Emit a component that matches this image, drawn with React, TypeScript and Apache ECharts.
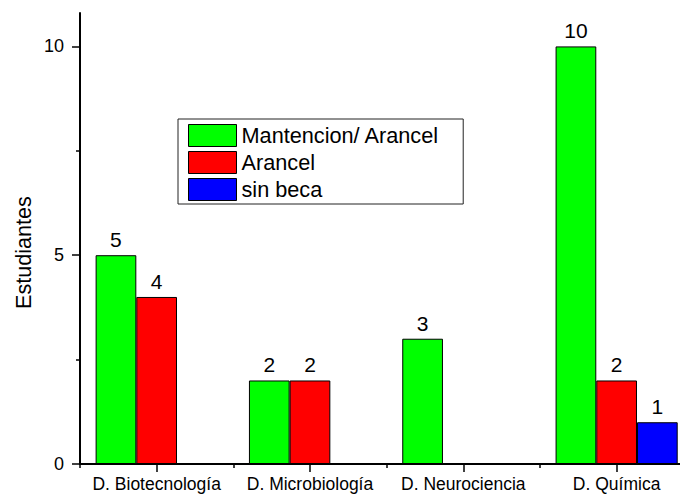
import React, { useEffect, useRef } from "react";
import * as echarts from "echarts";

const categories = ["D. Biotecnología", "D. Microbiología", "D. Neurociencia", "D. Química"];
const mantencionArancel = [5, 2, 3, 10];
const arancel = [4, 2, null, 2];
const sinBeca = [null, null, null, 1];
const seriesNames = ["Mantencion/ Arancel", "Arancel", "sin beca"];
const seriesColors = ["#00ff00", "#ff0000", "#0000ff"];
const yMajorTicks = [0, 5, 10];
const yMinorTicks = [2.5, 7.5];
const yAxisTitle = "Estudiantes";

const FONT = 'Arial, "Liberation Sans", sans-serif';

export default function App() {
  const ref = useRef<HTMLDivElement>(null);
  useEffect(() => {
    if (!ref.current) return;
    const chart = echarts.init(ref.current, null, { renderer: "svg" });
    const values = [mantencionArancel, arancel, sinBeca];
    chart.setOption({
      animation: false,
      backgroundColor: "#ffffff",
      textStyle: { fontFamily: FONT },
      grid: { left: 80, right: 0.7, top: 13, bottom: 32, containLabel: false },
      graphic: [
        {
          type: "text",
          x: 23.5,
          y: 252.5,
          rotation: Math.PI / 2,
          style: {
            text: yAxisTitle,
            fill: "#000",
            font: `21.6px ${FONT}`,
            textAlign: "center",
            textVerticalAlign: "middle",
          },
        },
      ],
      legend: {
        orient: "vertical",
        left: 178,
        top: 119,
        padding: [5, 24, 3, 10],
        itemWidth: 48,
        itemHeight: 22,
        itemGap: 4,
        borderColor: "#222",
        borderWidth: 1,
        borderRadius: 0,
        icon: "rect",
        textStyle: { fontSize: 21.7, color: "#000", fontFamily: FONT, padding: [0, 0, 0, 0] },
        itemStyle: { borderColor: "#000", borderWidth: 1 },
        data: seriesNames,
      },
      xAxis: [
        {
          type: "category",
          data: categories,
          position: "bottom",
          axisLine: { show: true, lineStyle: { color: "#000", width: 2 } },
          axisTick: { show: true, alignWithLabel: true, length: 8, lineStyle: { color: "#000", width: 1.5 } },
          axisLabel: { color: "#000", fontSize: 17.5, fontFamily: FONT, margin: 11, interval: 0 },
        },
        {
          type: "category",
          data: categories,
          position: "bottom",
          axisLine: { show: false },
          axisTick: { show: true, alignWithLabel: false, length: 4, lineStyle: { color: "#000", width: 1.5 } },
          axisLabel: { show: false },
        },
      ],
      yAxis: [
        {
          type: "value",
          min: 0,
          max: 10.8,
          interval: 5,
          position: "left",
          splitLine: { show: false },
          axisLine: { show: true, lineStyle: { color: "#000", width: 2 } },
          axisTick: { show: true, length: 8, customValues: yMajorTicks, lineStyle: { color: "#000", width: 1.5 } },
          axisLabel: { color: "#000", fontSize: 18, fontFamily: FONT, margin: 16, customValues: yMajorTicks },
        },
        {
          type: "value",
          min: 0,
          max: 10.8,
          interval: 5,
          position: "left",
          splitLine: { show: false },
          axisLine: { show: false },
          axisTick: { show: true, length: 4, customValues: yMinorTicks, lineStyle: { color: "#000", width: 1.5 } },
          axisLabel: { show: false },
        },
      ],
      series: seriesNames.map((name, i) => ({
        name,
        type: "bar",
        xAxisIndex: 0,
        yAxisIndex: 0,
        data: values[i],
        barWidth: 40.7,
        barGap: "0%",
        itemStyle: { color: seriesColors[i], borderColor: "#000", borderWidth: 1 },
        label: {
          show: true,
          position: "top",
          distance: 5,
          color: "#000",
          fontSize: 21,
          fontFamily: FONT,
        },
      })),
    });
    return () => chart.dispose();
  }, []);
  return (
    <div style={{ position: "absolute", left: 0, top: 0, width: 680, height: 496, overflow: "hidden" }}>
      <div ref={ref} style={{ width: 694, height: 496 }} />
    </div>
  );
}
